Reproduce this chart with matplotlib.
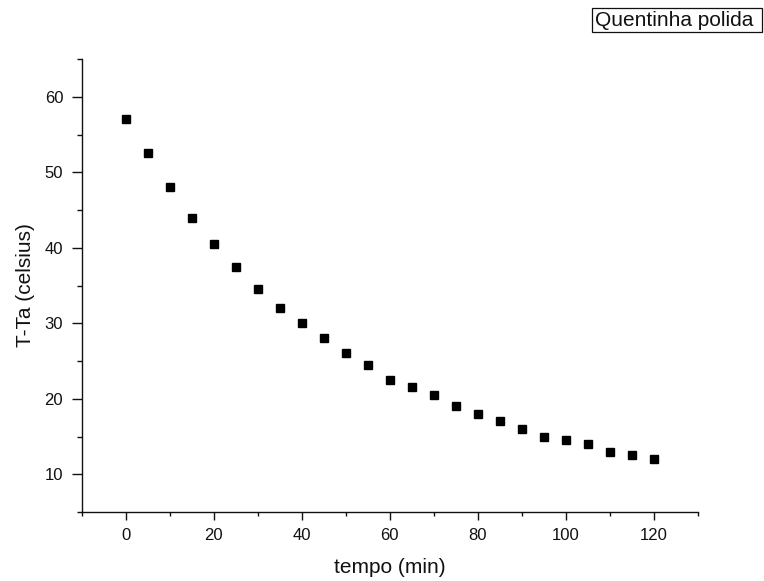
import matplotlib
matplotlib.use("Agg")
import matplotlib.pyplot as plt
from matplotlib.ticker import MultipleLocator
from matplotlib.patches import Rectangle

plt.rcParams['font.family'] = ['Liberation Sans', 'DejaVu Sans']

tempo = [0, 5, 10, 15, 20, 25, 30, 35, 40, 45, 50, 55, 60, 65, 70, 75, 80, 85, 90, 95, 100, 105, 110, 115, 120]
dT = [57.0, 52.5, 48.0, 44.0, 40.5, 37.5, 34.5, 32.0, 30.0, 28.0, 26.0, 24.5, 22.5, 21.5, 20.5, 19.0, 18.0, 17.0, 16.0, 15.0, 14.5, 14.0, 13.0, 12.5, 12.0]
series_name = "Quentinha polida"

W, H = 764, 581
fig = plt.figure(figsize=(W / 100, H / 100), dpi=100)
ax = fig.add_axes([81.5 / W, (H - 512) / H, (698 - 81.5) / W, (512 - 59) / H])
ax.plot(tempo, dT, linestyle='none', marker='s', markersize=5.8, color='black')
ax.set_xlim(-10, 130)
ax.set_ylim(5, 65)
ax.xaxis.set_major_locator(MultipleLocator(20))
ax.xaxis.set_minor_locator(MultipleLocator(10))
ax.yaxis.set_major_locator(MultipleLocator(10))
ax.yaxis.set_minor_locator(MultipleLocator(5))
for s in ['top', 'right']:
    ax.spines[s].set_visible(False)
for s in ['left', 'bottom']:
    ax.spines[s].set_linewidth(1.0)
    ax.spines[s].set_color('#111111')
ax.tick_params(axis='x', which='major', direction='out', length=5.8, width=1.0, labelsize=12, pad=5.5, colors='#111111')
ax.tick_params(axis='y', which='major', direction='out', length=7.2, width=1.0, labelsize=12, pad=6.0, colors='#111111')
ax.tick_params(axis='x', which='minor', direction='out', length=3.0, width=1.0, colors='#111111')
ax.tick_params(axis='y', which='minor', direction='out', length=3.5, width=1.0, colors='#111111')
ax.set_xlabel('tempo (min)', fontsize=15, color='#111111')
ax.set_ylabel('T-Ta (celsius)', fontsize=15, color='#111111')
ax.xaxis.set_label_coords(0.5, -0.1015)
ax.yaxis.set_label_coords(-0.076, 0.5)

fig.patches.append(Rectangle((591.5 / W, (H - 32) / H), (762 - 591.5) / W, 24 / H,
                             transform=fig.transFigure, facecolor='white', edgecolor='#111111', linewidth=0.9))
fig.text(595 / W, (H - 20.5) / H, series_name, fontsize=15, ha='left', va='center', color='#111111')

fig.savefig('out.png', dpi=100)
